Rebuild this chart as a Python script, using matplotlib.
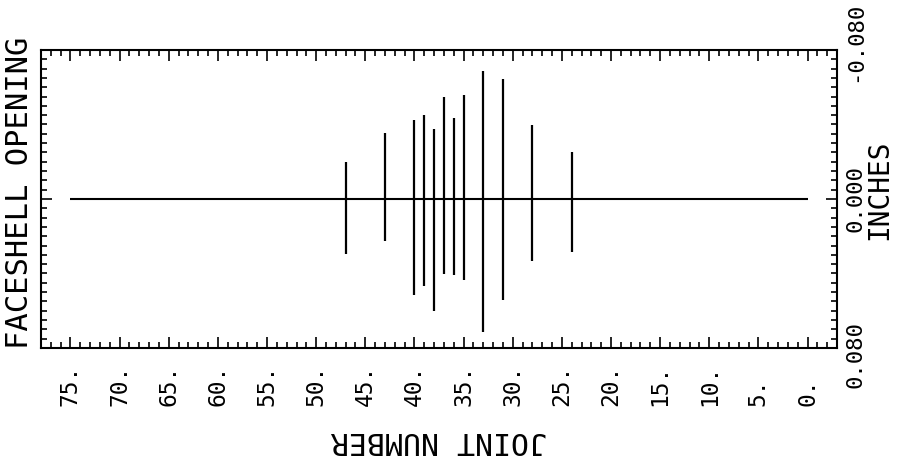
import matplotlib
matplotlib.use('Agg')
import matplotlib.pyplot as plt
import matplotlib.transforms as mtransforms
from matplotlib.ticker import MultipleLocator

# Fugen-Nummern mit den Ausschlägen nach oben (negativ) und unten (positiv)
joints = [47, 43, 40, 39, 38, 37, 36, 35, 33, 31, 28, 24]
opening_min = [-0.0200, -0.0353, -0.0422, -0.0449, -0.0377, -0.0545,
               -0.0437, -0.0557, -0.0689, -0.0644, -0.0395, -0.0254]
opening_max = [0.0294, 0.0227, 0.0516, 0.0467, 0.0601, 0.0404,
               0.0408, 0.0435, 0.0713, 0.0543, 0.0332, 0.0285]
baseline_start, baseline_end = 75, 0

x_ticks = [75, 70, 65, 60, 55, 50, 45, 40, 35, 30, 25, 20, 15, 10, 5, 0]
x_labels = ['75.', '70.', '65.', '60.', '55.', '50.', '45.', '40.',
            '35.', '30.', '25.', '20.', '15.', '10.', '5.', '0.']
y_ticks = [-0.08, 0.0, 0.08]
y_labels = ['-0.080', '0.000', '0.080']

plt.rcParams['font.family'] = ['DejaVu Sans Mono', 'DejaVu Sans']

fig = plt.figure(figsize=(9.01, 4.62), dpi=100)
ax = fig.add_axes([0.0455, 0.2468, 0.8835, 0.645])

ax.hlines(0, baseline_start, baseline_end, color='black', linewidth=1.5)
ax.vlines(joints, opening_min, opening_max, color='black', linewidth=1.6)

ax.set_xlim(78, -3)
ax.set_ylim(0.08, -0.08)

ax.xaxis.set_major_locator(MultipleLocator(5))
ax.xaxis.set_minor_locator(MultipleLocator(1))

ax.tick_params(which='both', direction='in', top=True, bottom=True, left=True, right=True,
               width=1.2, color='black')
ax.tick_params(which='major', length=8)
ax.tick_params(which='minor', length=4)

ax.set_xticks(x_ticks)
ax.set_xticklabels(x_labels, rotation=90, va='bottom', ha='center', fontsize=16.5)
ax.tick_params(axis='x', which='major', pad=42)

ax.yaxis.tick_right()
ax.tick_params(axis='y', which='both', left=True, right=True, labelleft=False, labelright=True)
ax.set_yticks(y_ticks)
ax.set_yticklabels(y_labels, rotation=90, fontsize=16, va='center', ha='left')
ax.yaxis.set_minor_locator(MultipleLocator(0.005))
ax.tick_params(axis='y', which='major', pad=6)

# die äußeren Beschriftungen etwas nach außen schieben
offs = [0.08, 0.0, -0.07]
for lbl, dy in zip(ax.get_yticklabels(), offs):
    lbl.set_transform(lbl.get_transform() + mtransforms.ScaledTranslation(0, dy, fig.dpi_scale_trans))

for spine in ax.spines.values():
    spine.set_linewidth(1.5)

ax.set_xlabel('JOINT NUMBER', rotation=180, fontsize=21.5, labelpad=14)
fig.text(0.022, 0.582, 'FACESHELL OPENING', rotation=90, fontsize=22, ha='center', va='center')
fig.text(0.976, 0.59, 'INCHES', rotation=90, fontsize=20, ha='center', va='center')

fig.savefig('out.png', dpi=100)
